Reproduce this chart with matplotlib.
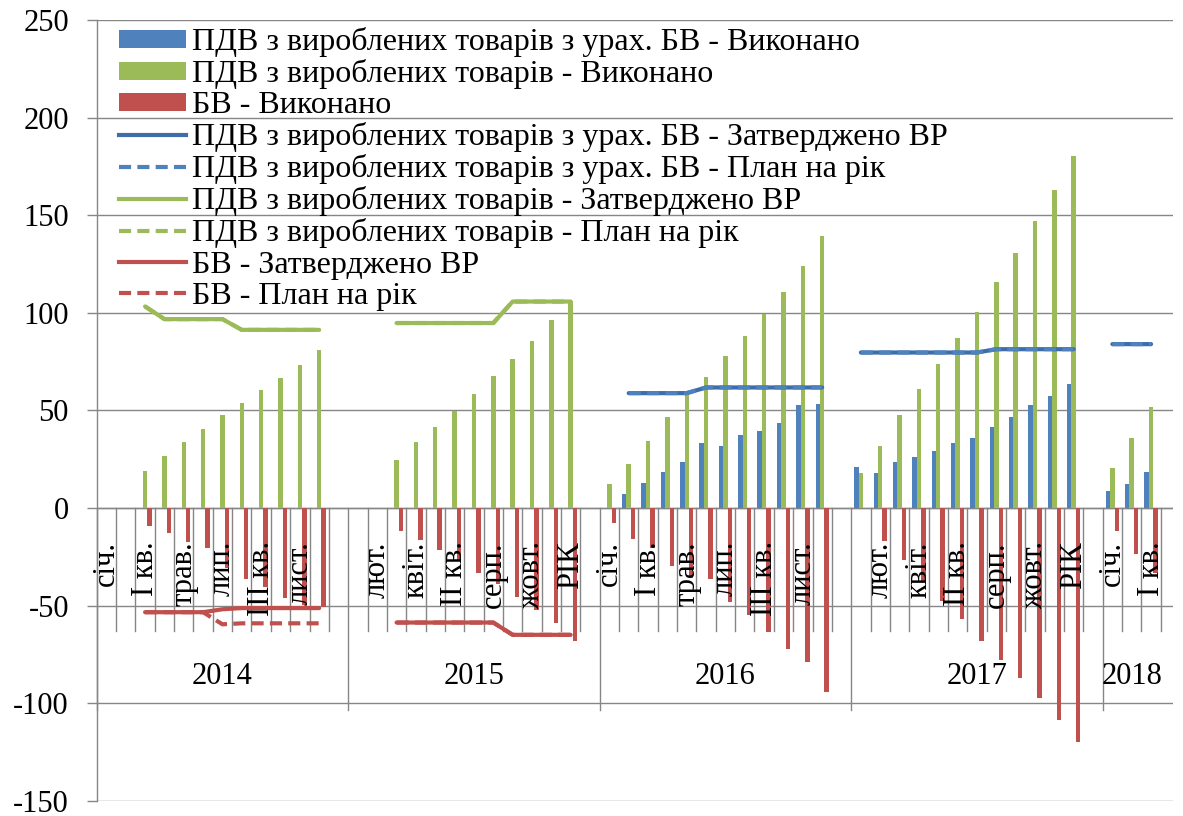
import numpy as np
import matplotlib
matplotlib.use("Agg")
import matplotlib.pyplot as plt
from matplotlib.patches import Patch
from matplotlib.lines import Line2D

N = np.nan

years = ["2014", "2015", "2016", "2017", "2018"]
periods = ["січ.", "лют.", "І кв.", "квіт.", "трав.", "ІІ кв.", "лип.", "серп.",
           "ІІІ кв.", "жовт.", "лист.", "РІК"]
periods_2018 = ["січ.", "лют.", "І кв."]

# ПДВ з вироблених товарів з урах. БВ - Виконано (blue bars)
pdv_bv_done_2014 = [N, N, N, N, N, N, N, N, N, N, N, N]
pdv_bv_done_2015 = [N, N, N, N, N, N, N, N, N, N, N, N]
pdv_bv_done_2016 = [N, 7.2, 12.8, 18.7, 23.4, 33.3, 31.9, 37.2, 39.7, 43.8, 52.9, 53.4]
pdv_bv_done_2017 = [21.3, 18.2, 23.4, 26.1, 29.3, 33.3, 35.9, 41.3, 46.9, 52.9, 57.5, 63.5]
pdv_bv_done_2018 = [8.9, 12.3, 18.7]

# ПДВ з вироблених товарів - Виконано (green bars)
pdv_done_2014 = [N, N, 18.9, 26.9, 33.9, 40.6, 47.8, 53.9, 60.4, 66.8, 73.3, 81.1]
pdv_done_2015 = [N, N, 24.7, 33.8, 41.8, 49.8, 58.4, 67.9, 76.6, 85.8, 96.3, 106.3]
pdv_done_2016 = [12.3, 22.7, 34.6, 46.9, 58.0, 67.4, 77.8, 88.4, 99.5, 110.6, 124.2, 139.5]
pdv_done_2017 = [17.9, 31.9, 47.8, 60.9, 73.9, 87.1, 100.7, 115.7, 130.9, 146.8, 163.0, 180.1]
pdv_done_2018 = [20.8, 35.9, 52.0]

# БВ - Виконано (red bars)
bv_done_2014 = [N, N, -9.1, -12.8, -17.6, -20.2, -30.8, -36.3, -40.2, -45.9, -49.6, -50.8]
bv_done_2015 = [N, N, -11.5, -16.2, -21.4, -27.0, -33.3, -39.0, -45.3, -52.1, -58.9, -68.0]
bv_done_2016 = [-7.7, -15.7, -20.5, -29.4, -35.9, -36.2, -48.3, -54.6, -63.5, -72.1, -78.9, -94.2]
bv_done_2017 = [N, -16.6, -26.5, -37.6, -47.8, -56.9, -68.0, -77.7, -87.1, -97.0, -108.4, -119.8]
bv_done_2018 = [-11.6, -23.6, -33.3]

# ПДВ з урах. БВ - Затверджено ВР (blue solid) / План на рік (blue dashed)
pdv_bv_appr_2014 = [N, N, N, N, N, N, N, N, N, N, N, N]
pdv_bv_appr_2015 = [N, N, N, N, N, N, N, N, N, N, N, N]
pdv_bv_appr_2016 = [N, 58.9, 58.9, 58.9, 58.9, 61.8, 61.8, 61.8, 61.8, 61.8, 61.8, 61.8]
pdv_bv_appr_2017 = [79.7, 79.7, 79.7, 79.7, 79.7, 79.7, 79.7, 81.4, 81.4, 81.4, 81.4, 81.4]
pdv_bv_appr_2018 = [84.0, 84.0, 84.0]
pdv_bv_plan_2014 = [N, N, N, N, N, N, N, N, N, N, N, N]
pdv_bv_plan_2015 = [N, N, N, N, N, N, N, N, N, N, N, N]
pdv_bv_plan_2016 = [N, 58.9, 58.9, 58.9, 58.9, 61.8, 61.8, 61.8, 61.8, 61.8, 61.8, 61.8]
pdv_bv_plan_2017 = [79.7, 79.7, 79.7, 79.7, 79.7, 79.7, 79.7, 81.4, 81.4, 81.4, 81.4, 81.4]
pdv_bv_plan_2018 = [84.0, 84.0, 84.0]

# ПДВ - Затверджено ВР (green solid) / План на рік (green dashed)
pdv_appr_2014 = [N, N, 103.3, 96.8, 96.8, 96.8, 96.8, 91.3, 91.3, 91.3, 91.3, 91.3]
pdv_appr_2015 = [N, N, 94.8, 94.8, 94.8, 94.8, 94.8, 94.8, 105.8, 105.8, 105.8, 105.8]
pdv_plan_2014 = [N, N, 103.3, 96.8, 96.8, 96.8, 96.8, 91.3, 91.3, 91.3, 91.3, 91.3]
pdv_plan_2015 = [N, N, 94.8, 94.8, 94.8, 94.8, 94.8, 94.8, 105.8, 105.8, 105.8, 105.8]

# БВ - Затверджено ВР (red solid) / План на рік (red dashed)
bv_appr_2014 = [N, N, -53.3, -53.3, -53.3, -53.3, -51.8, -51.2, -51.2, -51.2, -51.2, -51.2]
bv_appr_2015 = [N, N, -58.6, -58.6, -58.6, -58.6, -58.6, -58.6, -64.9, -64.9, -64.9, -64.9]
bv_plan_2014 = [N, N, -53.3, -53.3, -53.3, -53.3, -59.5, -59.0, -59.0, -59.0, -59.0, -59.0]
bv_plan_2015 = [N, N, -58.6, -58.6, -58.6, -58.6, -58.6, -58.6, -64.9, -64.9, -64.9, -64.9]

EMPTY = [N, N, N, N, N, N, N, N, N, N, N, N]
EMPTY18 = [N, N, N]


def joined(y14, y15, y16, y17, y18):
    # each full year gets one blank slot after it, as in the source axis
    out = []
    for part in (y14, y15, y16, y17):
        out += list(part) + [N]
    out += list(y18)
    return np.array(out, dtype=float)


blue_bars = joined(pdv_bv_done_2014, pdv_bv_done_2015, pdv_bv_done_2016, pdv_bv_done_2017, pdv_bv_done_2018)
green_bars = joined(pdv_done_2014, pdv_done_2015, pdv_done_2016, pdv_done_2017, pdv_done_2018)
red_bars = joined(bv_done_2014, bv_done_2015, bv_done_2016, bv_done_2017, bv_done_2018)
blue_appr = joined(pdv_bv_appr_2014, pdv_bv_appr_2015, pdv_bv_appr_2016, pdv_bv_appr_2017, pdv_bv_appr_2018)
blue_plan = joined(pdv_bv_plan_2014, pdv_bv_plan_2015, pdv_bv_plan_2016, pdv_bv_plan_2017, pdv_bv_plan_2018)
green_appr = joined(pdv_appr_2014, pdv_appr_2015, EMPTY, EMPTY, EMPTY18)
green_plan = joined(pdv_plan_2014, pdv_plan_2015, EMPTY, EMPTY, EMPTY18)
red_appr = joined(bv_appr_2014, bv_appr_2015, EMPTY, EMPTY, EMPTY18)
red_plan = joined(bv_plan_2014, bv_plan_2015, EMPTY, EMPTY, EMPTY18)

cat_labels = []
for y in years[:4]:
    cat_labels += periods + [""]
cat_labels += periods_2018
n_cat = len(cat_labels)
x = np.arange(n_cat) + 0.5

BLUE = "#4F81BD"
BLUE_DARK = "#3E6DA9"
GREEN = "#9BBB59"
RED = "#C0504D"
GRID = "#868686"

plt.rcParams["font.family"] = ["Liberation Serif", "DejaVu Serif"]
plt.rcParams["axes.unicode_minus"] = False
FS = 22
LEG_FS = 23

W, H = 1183, 816
fig = plt.figure(figsize=(W / 100, H / 100), dpi=100)
ax_left, ax_right, ax_top, ax_bottom = 96.7, 1172.7, 20.0, 801.0
ax = fig.add_axes([ax_left / W, (H - ax_bottom) / H, (ax_right - ax_left) / W, (ax_bottom - ax_top) / H])

cat_px = (1102.7 - 96.7) / 52.0
ax.set_xlim(0, (ax_right - ax_left) / cat_px)
ax.set_ylim(-150, 250)
px_per_unit = (ax_bottom - ax_top) / 400.0

bw = 0.23
ax.bar(x - bw, blue_bars, bw, color=BLUE, linewidth=0, zorder=2)
ax.bar(x, green_bars, bw, color=GREEN, linewidth=0, zorder=2)
ax.bar(x + bw, red_bars, bw, color=RED, linewidth=0, zorder=2)

LW = 3.0
DASH = (2.9, 1.5)
common = dict(solid_joinstyle="round", solid_capstyle="round", dash_joinstyle="round", zorder=4)
ax.plot(x, blue_appr, color=BLUE_DARK, lw=LW, **common)
ax.plot(x, blue_plan, color=BLUE, lw=LW, dashes=DASH, **common)
ax.plot(x, green_appr, color=GREEN, lw=LW, **common)
ax.plot(x, green_plan, color=GREEN, lw=LW, dashes=DASH, **common)
ax.plot(x, red_appr, color=RED, lw=LW, **common)
ax.plot(x, red_plan, color=RED, lw=LW, dashes=DASH, **common)

# axes styling
ax.set_yticks(np.arange(-150, 251, 50))
ax.yaxis.grid(True, color=GRID, lw=1.0, zorder=0)
ax.set_axisbelow(True)
for s in ("top", "right", "bottom"):
    ax.spines[s].set_visible(False)
ax.spines["left"].set_color(GRID)
ax.spines["left"].set_linewidth(1.0)
ax.tick_params(axis="y", direction="out", length=7, width=1, color=GRID, labelsize=FS, pad=13)
ax.set_xticks([])
ax.axhline(0, color=GRID, lw=1.0, zorder=1)

# category axis: boundaries, rotated labels, year labels
tick_len = 123 / px_per_unit
year_len = 202 / px_per_unit
starts = [0, 13, 26, 39, 52]
bounds = np.arange(n_cat + 1)
year_bounds = set(starts)
for b in bounds:
    if b in year_bounds:
        ax.plot([b, b], [0, -year_len], color=GRID, lw=1.0, zorder=1, clip_on=False)
    else:
        ax.plot([b, b], [0, -tick_len], color=GRID, lw=1.0, zorder=1, clip_on=False)

for i, lab in enumerate(cat_labels):
    if i % 2 == 0 and lab:
        ax.annotate(lab, xy=(x[i], 0), xytext=(0, -33), textcoords="offset pixels",
                    rotation=90, ha="center", va="top", fontsize=FS, zorder=3)

year_ends = starts[1:] + [n_cat]
xmax = ax.get_xlim()[1]
for yl, s, e in zip(years, starts, year_ends):
    cx = (s + e) / 2.0
    half = 1.7
    cx = min(cx, xmax - half)
    ax.annotate(yl, xy=(cx, 0), xytext=(0, -(677 - 508.3)), textcoords="offset pixels",
                ha="center", va="center", fontsize=FS)

handles = [
    Patch(facecolor=BLUE, edgecolor="none"),
    Patch(facecolor=GREEN, edgecolor="none"),
    Patch(facecolor=RED, edgecolor="none"),
    Line2D([], [], color=BLUE_DARK, lw=LW),
    Line2D([], [], color=BLUE, lw=LW, dashes=DASH),
    Line2D([], [], color=GREEN, lw=LW),
    Line2D([], [], color=GREEN, lw=LW, dashes=DASH),
    Line2D([], [], color=RED, lw=LW),
    Line2D([], [], color=RED, lw=LW, dashes=DASH),
]
labels = [
    "ПДВ з вироблених товарів з урах. БВ - Виконано",
    "ПДВ з вироблених товарів - Виконано",
    "БВ - Виконано",
    "ПДВ з вироблених товарів з урах. БВ - Затверджено ВР",
    "ПДВ з вироблених товарів з урах. БВ - План на рік",
    "ПДВ з вироблених товарів - Затверджено ВР",
    "ПДВ з вироблених товарів - План на рік",
    "БВ - Затверджено ВР",
    "БВ - План на рік",
]
leg = ax.legend(handles, labels, loc="upper left", bbox_to_anchor=(119 / W, 1 - 27 / H),
                bbox_transform=fig.transFigure, frameon=False, fontsize=LEG_FS,
                handlelength=2.1, handleheight=0.48, handletextpad=0.2,
                labelspacing=0.065, borderpad=0, borderaxespad=0)

fig.savefig("out.png", dpi=100)
